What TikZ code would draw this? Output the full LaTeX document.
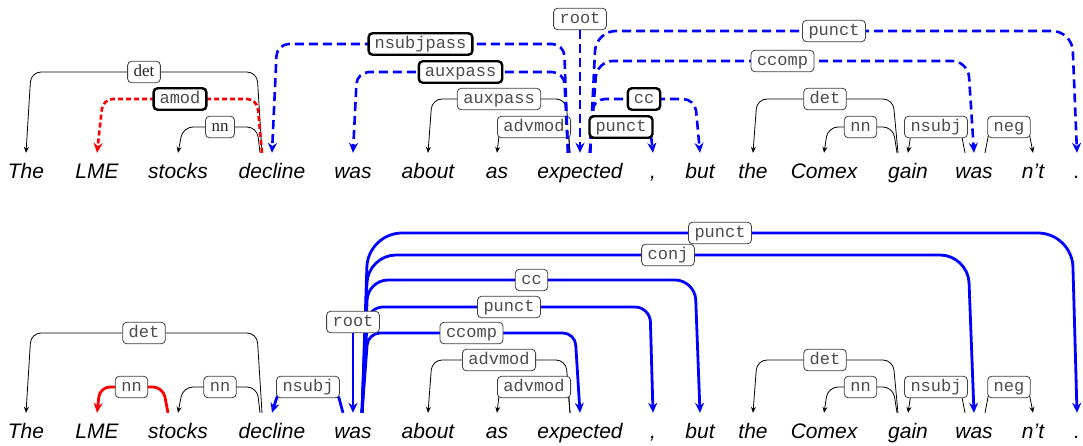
\documentclass[tikz,border=0pt]{standalone}
\usepackage{fontspec}
\setmainfont{Liberation Serif}
\setsansfont{Liberation Sans}
\setmonofont{Liberation Mono}
\usetikzlibrary{arrows.meta}

\begin{document}
\begin{tikzpicture}[x=1pt,y=-1pt,
    word/.style={anchor=base,font=\sffamily\itshape\fontsize{21}{25}\selectfont,text height=15pt,inner ysep=10pt,inner xsep=0pt},
    lbl/.style={draw=black!75,solid,line width=0.8pt,fill=white,rounded corners=4pt,text=black!70,
      font=\ttfamily\fontsize{17}{20}\selectfont,inner xsep=6pt,inner ysep=3pt,text height=12pt,text depth=3.5pt},
    lbl serif/.style={lbl,font=\rmfamily\fontsize{17}{20}\selectfont,text=black!85},
    strong/.style={lbl,draw=black,line width=2.4pt},
    dep/.style={draw=black,line width=0.8pt,rounded corners=10pt,-{Stealth[length=6pt,width=5pt]}},
    blue dep/.style={draw=blue,line width=2.6pt,rounded corners=12pt,dash pattern=on 9pt off 5pt,-{Stealth[length=10pt,width=9pt]}},
    red dep/.style={draw=red,line width=2.6pt,rounded corners=10pt,dash pattern=on 5pt off 3pt,-{Stealth[length=10pt,width=9pt]}},
    blue arc/.style={draw=blue,line width=2.8pt,rounded corners=12pt,-{Stealth[length=10pt,width=9pt]}},
    red arc/.style={draw=red,line width=2.8pt,rounded corners=10pt,-{Stealth[length=10pt,width=9pt]}}]

    \useasboundingbox (0,0) rectangle (1083,445);

    % the two sentences
    \foreach \x/\w [count=\i] in {26/The,97/LME,178/stocks,272/decline,353/was,428/about,497/as,580/expected,653/{,},700/but,753/the,824/Comex,908/gain,974/was,1033/n't,1077/.}
    {
        \node[word] (t\i) at (\x,178) {\w};
        \node[word] (b\i) at (\x,438) {\w};
    }

    % upper parse
    \draw[dep] ([xshift=-10pt]t4.north) -- (257,72) -- node[lbl serif] (d1) {det} (31,72) -- (t1.north);
    \draw[dep] ([xshift=-12pt]t4.north) -- (257,127) -- node[lbl serif] (d2) {nn} (183,127) -- (t3.north);
    \draw[dep] ([xshift=-10pt]t8.north) -- (566,99) -- node[lbl] (d3) {auxpass} (432,99) -- (t6.north);
    \draw[dep] ([xshift=-10pt]t8.north) -- (568,127) -- node[lbl] (d4) {advmod} (500,127) -- (t7.north);
    \draw[dep] ([xshift=-10pt]t13.north) -- (893,99) -- node[lbl] (d5) {det} (757,99) -- (t11.north);
    \draw[dep] ([xshift=-11pt]t13.north) -- (893,127) -- node[lbl] (d6) {nn} (828,127) -- (t12.north);
    \draw[dep] ([xshift=-9pt]t14.north) -- (960,127) -- node[lbl] (d7) {nsubj} (912,127) -- (t13.north);
    \draw[dep] ([xshift=11pt]t14.north) -- (990,127) -- node[lbl] (d8) {neg} (1028,127) -- (t15.north);

    \draw[red dep] ([xshift=-10pt]t4.north) -- (257,99) -- node[strong] (d9) {amod} (103,99) -- (t2.north);

    \draw[blue dep] ([xshift=-12pt]t8.north) -- (564,44) -- node[strong] (d10) {nsubjpass} (277,44) -- (t4.north);
    \draw[blue dep] ([xshift=-12pt]t8.north) -- (564,72) -- node[strong] (d11) {auxpass} (357,72) -- (t5.north);
    \draw[blue dep,rounded corners=20pt] ([xshift=10pt]t8.north) -- (596,31) -- node[lbl] (d12) {punct} (1072,31) -- (t16.north);
    \draw[blue dep,rounded corners=16pt] ([xshift=10pt]t8.north) -- (597,61) -- node[lbl] (d13) {ccomp} (968,61) -- (t14.north);
    \draw[blue dep] ([xshift=10pt]t8.north) -- (593,99) -- node[strong] (d14) {cc} (695,99) -- (t10.north);
    \draw[blue dep] ([xshift=10pt]t8.north) -- (592,127) -- node[strong] (d15) {punct} (650,127) -- (t9.north);
    \node[lbl] (r1) at (580,19) {root};
    \draw[blue dep] (r1) -- (t8.north);

    % lower parse
    \draw[dep] ([xshift=-10pt]b4.north) -- (257,333) -- node[lbl] (e1) {det} (31,333) -- (b1.north);
    \draw[dep] ([xshift=-12pt]b4.north) -- (257,387) -- node[lbl] (e2) {nn} (183,387) -- (b3.north);
    \draw[dep] ([xshift=-10pt]b8.north) -- (566,360) -- node[lbl] (e3) {advmod} (432,360) -- (b6.north);
    \draw[dep] ([xshift=-10pt]b8.north) -- (568,387) -- node[lbl] (e4) {advmod} (500,387) -- (b7.north);
    \draw[dep] ([xshift=-10pt]b13.north) -- (893,360) -- node[lbl] (e5) {det} (757,360) -- (b11.north);
    \draw[dep] ([xshift=-11pt]b13.north) -- (893,387) -- node[lbl] (e6) {nn} (828,387) -- (b12.north);
    \draw[dep] ([xshift=-9pt]b14.north) -- (960,387) -- node[lbl] (e7) {nsubj} (912,387) -- (b13.north);
    \draw[dep] ([xshift=11pt]b14.north) -- (990,387) -- node[lbl] (e8) {neg} (1028,387) -- (b15.north);

    \draw[red arc] ([xshift=-10pt]b3.north) -- (163,387) -- node[lbl] (e9) {nn} (100,387) -- (b2.north);

    \draw[blue arc] ([xshift=-10pt]b5.north) -- (336,387) -- node[lbl] (e10) {nsubj} (280,387) -- (b4.north);
    \draw[blue arc,rounded corners=12pt] ([xshift=9pt]b5.north) -- (368,333) -- node[lbl] (e11) {ccomp} (575,333) -- (b8.north);
    \draw[blue arc,rounded corners=15pt] ([xshift=9pt]b5.north) -- (368,307) -- node[lbl] (e12) {punct} (650,307) -- (b9.north);
    \draw[blue arc,rounded corners=20pt] ([xshift=9pt]b5.north) -- (368,280) -- node[lbl] (e13) {cc} (695,280) -- (b10.north);
    \draw[blue arc,rounded corners=28pt] ([xshift=9pt]b5.north) -- (368,255) -- node[lbl] (e14) {conj} (968,255) -- (b14.north);
    \draw[blue arc,rounded corners=34pt] ([xshift=9pt]b5.north) -- (368,233) -- node[lbl] (e15) {punct} (1072,233) -- (b16.north);
    \node[lbl] (r2) at (353,322) {root};
    \draw[blue arc] (r2) -- (b5.north);
\end{tikzpicture}
\end{document}
